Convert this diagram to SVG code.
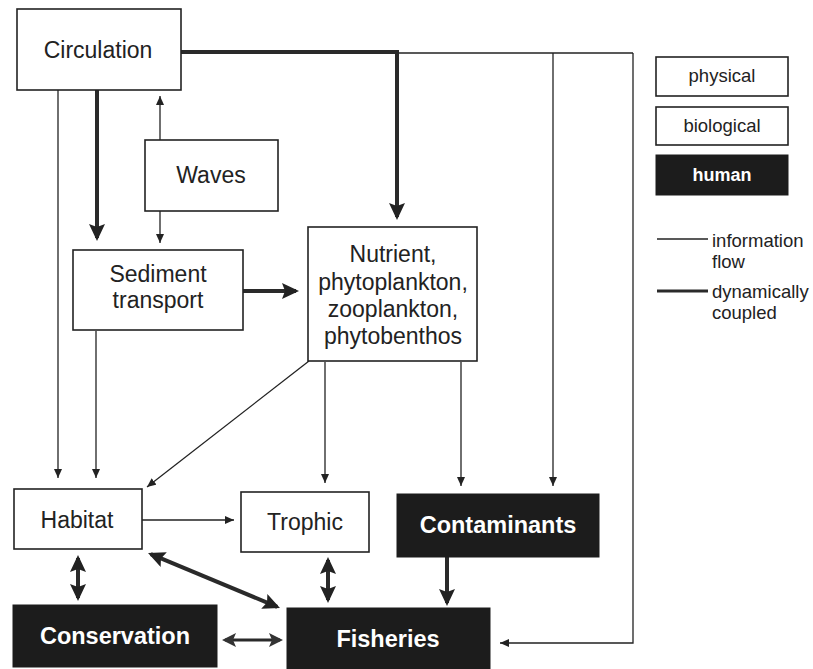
<svg xmlns="http://www.w3.org/2000/svg" width="813" height="669" viewBox="0 0 813 669">
<style>
.box{fill:#fff;stroke:#222;stroke-width:1.6}
.hum{fill:#1c1c1c;stroke:#1c1c1c;stroke-width:1}
.t{font-family:"Liberation Sans",Arial,sans-serif;font-size:23px;fill:#222;text-anchor:middle}
.tb{font-family:"Liberation Sans",Arial,sans-serif;font-size:23.5px;font-weight:bold;fill:#fff;text-anchor:middle}
.lg{font-family:"Liberation Sans",Arial,sans-serif;font-size:18.5px;fill:#222}
.thin{fill:none;stroke:#222;stroke-width:1.3}
.thick{fill:none;stroke:#2a2a2a;stroke-width:4}
.med{fill:none;stroke:#2a2a2a;stroke-width:3}
</style>
<defs>
<marker id="a" markerUnits="userSpaceOnUse" markerWidth="10" markerHeight="8" refX="9" refY="4" orient="auto"><path d="M0,0 L9,4 L0,8 Z" fill="#222"/></marker>
<marker id="A" markerUnits="userSpaceOnUse" markerWidth="18" markerHeight="16" refX="14" refY="8" orient="auto"><path d="M0,0 L17,8 L0,16 L3,8 Z" fill="#222"/></marker>
<marker id="As" markerUnits="userSpaceOnUse" markerWidth="18" markerHeight="16" refX="14" refY="8" orient="auto-start-reverse"><path d="M0,0 L17,8 L0,16 L3,8 Z" fill="#222"/></marker>
<marker id="M" markerUnits="userSpaceOnUse" markerWidth="15" markerHeight="14" refX="11" refY="7" orient="auto-start-reverse"><path d="M0,0 L14,7 L0,14 L3,7 Z" fill="#333"/></marker>
</defs>

<g id="connectors">
<path class="thin" d="M397,53 H633"/>
<path class="thick" d="M181,52 H397 V217" marker-end="url(#A)"/>
<path class="thin" d="M553,53 V486" marker-end="url(#a)"/>
<path class="thin" d="M633,53 V643 H500" marker-end="url(#a)"/>
<path class="thin" d="M58,90 V478" marker-end="url(#a)"/>
<path class="thick" d="M97,90 V238" marker-end="url(#A)"/>
<path class="thin" d="M160,140 V96" marker-end="url(#a)"/>
<path class="thin" d="M160,211 V243" marker-end="url(#a)"/>
<path class="thick" d="M243,291 H296" marker-end="url(#A)"/>
<path class="thin" d="M96,331 V478" marker-end="url(#a)"/>
<path class="thin" d="M309,361 L147,487" marker-end="url(#a)"/>
<path class="thin" d="M325,362 V483" marker-end="url(#a)"/>
<path class="thin" d="M461,362 V486" marker-end="url(#a)"/>
<path class="thin" d="M142,520 H234" marker-end="url(#a)"/>
<path class="thick" d="M78,558 V598" marker-start="url(#As)" marker-end="url(#As)"/>
<path class="thick" d="M150.8,554.2 L277.2,606.8" marker-start="url(#As)" marker-end="url(#As)"/>
<path class="thick" d="M328,560 V600" marker-start="url(#As)" marker-end="url(#As)"/>
<path class="thick" d="M447,557 V603" marker-end="url(#A)"/>
<path class="med" d="M225,640 H280" marker-start="url(#M)" marker-end="url(#M)"/>
</g>

<g id="circulation"><rect class="box" x="17" y="9" width="164" height="81"/><text class="t" x="98" y="58">Circulation</text></g>
<g id="waves"><rect class="box" x="145" y="140" width="133" height="71"/><text class="t" x="211" y="183">Waves</text></g>
<g id="sediment"><rect class="box" x="73" y="250" width="170" height="80"/><text class="t" x="158" y="282">Sediment</text><text class="t" x="158" y="308">transport</text></g>
<g id="nutrient"><rect class="box" x="308" y="227" width="169" height="134"/><text class="t" x="393" y="262">Nutrient,</text><text class="t" x="393" y="290">phytoplankton,</text><text class="t" x="393" y="317">zooplankton,</text><text class="t" x="393" y="344">phytobenthos</text></g>
<g id="habitat"><rect class="box" x="14" y="489" width="128" height="60"/><text class="t" x="77" y="528">Habitat</text></g>
<g id="trophic"><rect class="box" x="241" y="492" width="128" height="60"/><text class="t" x="305" y="530">Trophic</text></g>
<g id="contaminants"><rect class="hum" x="397" y="494" width="202" height="63"/><text class="tb" x="498" y="533">Contaminants</text></g>
<g id="conservation"><rect class="hum" x="13" y="605" width="204" height="62"/><text class="tb" x="115" y="644">Conservation</text></g>
<g id="fisheries"><rect class="hum" x="287" y="608" width="203" height="61"/><text class="tb" x="388" y="647">Fisheries</text></g>

<g id="legend">
<rect class="box" x="656" y="57" width="132" height="39"/><text class="lg" x="722" y="82" text-anchor="middle">physical</text>
<rect class="box" x="656" y="107" width="132" height="38"/><text class="lg" x="722" y="132" text-anchor="middle">biological</text>
<rect class="hum" x="656" y="155" width="132" height="40"/><text class="lg" x="722" y="181" text-anchor="middle" style="fill:#fff;font-weight:bold;font-size:18px">human</text>
<line class="thin" x1="657" y1="239" x2="708" y2="239"/>
<text class="lg" x="712" y="247">information</text><text class="lg" x="712" y="268">flow</text>
<line class="med" x1="657" y1="291" x2="708" y2="291"/>
<text class="lg" x="712" y="298">dynamically</text><text class="lg" x="712" y="319">coupled</text>
</g>
</svg>
